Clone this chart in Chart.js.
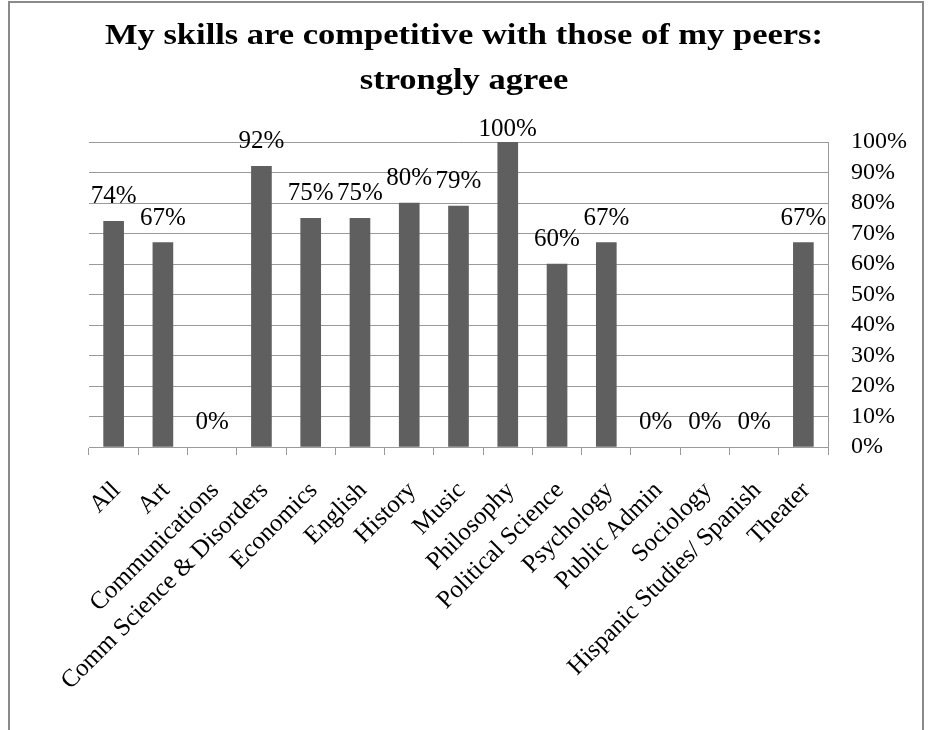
<!DOCTYPE html>
<html>
<head>
<meta charset="utf-8">
<script src="https://cdn.jsdelivr.net/npm/chart.js@4.4.1/dist/chart.umd.min.js"></script>
<style>
  html, body { margin: 0; padding: 0; background: #fff; }
  canvas { display: block; }
</style>
</head>
<body>
<canvas id="chart" width="928" height="730"></canvas>
<script>
// Departments surveyed and the share answering "strongly agree"
const categories = [
  'All', 'Art', 'Communications', 'Comm Science & Disorders', 'Economics',
  'English', 'History', 'Music', 'Philosophy', 'Political Science',
  'Psychology', 'Public Admin', 'Sociology', 'Hispanic Studies/ Spanish', 'Theater'
];
const strongAgreePct = [74, 67, 0, 92, 75, 75, 80, 79, 100, 60, 67, 0, 0, 0, 67];
const percentTicks = [0, 10, 20, 30, 40, 50, 60, 70, 80, 90, 100];
const titleLines = ['My skills are competitive with those of my peers:', 'strongly agree'];

const SERIF = '"Liberation Serif", "Times New Roman", serif';
const GRID = '#9a9a9a';
const BAR = '#5f5f5f';

// White page with a thin grey frame
const framePlugin = {
  id: 'frame',
  beforeDraw(chart) {
    const { ctx, width, height } = chart;
    ctx.save();
    ctx.fillStyle = '#fff';
    ctx.fillRect(0, 0, width, height);
    ctx.strokeStyle = '#8a8a8a';
    ctx.lineWidth = 2;
    ctx.strokeRect(9, 2, 914, height + 20);
    ctx.restore();
  }
};

// Two-line bold heading, slightly widened
const headingPlugin = {
  id: 'heading',
  afterDraw(chart) {
    const { ctx } = chart;
    const baselines = [44, 89];
    ctx.save();
    ctx.font = 'bold 30px ' + SERIF;
    ctx.fillStyle = '#000';
    ctx.textAlign = 'center';
    ctx.textBaseline = 'alphabetic';
    titleLines.forEach((line, i) => {
      ctx.save();
      ctx.translate(464, baselines[i]);
      ctx.scale(1.15, 1);
      ctx.fillText(line, 0, 0);
      ctx.restore();
    });
    ctx.restore();
  }
};

// Percentage written above each bar
const valueLabelPlugin = {
  id: 'valueLabels',
  afterDatasetsDraw(chart) {
    const { ctx, chartArea } = chart;
    const meta = chart.getDatasetMeta(0);
    const values = chart.data.datasets[0].data;
    ctx.save();
    ctx.font = '25px ' + SERIF;
    ctx.fillStyle = '#000';
    ctx.textAlign = 'center';
    ctx.textBaseline = 'alphabetic';
    meta.data.forEach((bar, i) => {
      const y = Math.max(bar.y - 18, chartArea.top - 6);
      ctx.fillText(values[i] + '%', bar.x, y);
    });
    ctx.restore();
  }
};

new Chart(document.getElementById('chart'), {
  type: 'bar',
  data: {
    labels: categories,
    datasets: [{
      data: strongAgreePct,
      backgroundColor: ctx => (ctx.raw > 0 ? BAR : 'rgba(0,0,0,0)'),
      borderWidth: 0,
      barThickness: 20
    }]
  },
  options: {
    responsive: false,
    animation: false,
    devicePixelRatio: 1,
    layout: { padding: { top: 142, left: 89, right: 0, bottom: 0 } },
    plugins: {
      legend: { display: false },
      title: { display: false },
      tooltip: { enabled: false }
    },
    scales: {
      x: {
        grid: {
          offset: true,
          drawOnChartArea: false,
          drawTicks: true,
          tickLength: 8,
          color: GRID
        },
        border: { display: true, color: GRID, width: 1 },
        ticks: {
          autoSkip: false,
          maxRotation: 45,
          minRotation: 45,
          padding: 21,
          labelOffset: 3,
          color: '#000',
          font: { family: SERIF, size: 25 }
        },
        afterFit(scale) { scale.height = 283; }
      },
      y: {
        position: 'right',
        min: 0,
        max: 100,
        afterBuildTicks(scale) {
          scale.ticks = percentTicks.map(v => ({ value: v }));
        },
        grid: { color: GRID, drawTicks: false, lineWidth: 1 },
        border: { display: true, color: GRID, width: 1 },
        ticks: {
          autoSkip: false,
          padding: 23,
          color: '#000',
          font: { family: SERIF, size: 24 },
          callback: v => v + '%'
        },
        afterFit(scale) { scale.width = 100; }
      }
    }
  },
  plugins: [framePlugin, valueLabelPlugin, headingPlugin]
});
</script>
</body>
</html>
